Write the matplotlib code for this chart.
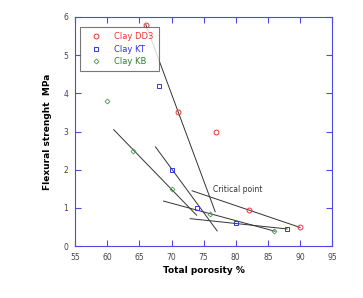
import matplotlib.pyplot as plt

# measured points
dd3_x = [66, 71, 77, 82, 90]
dd3_y = [5.8, 3.5, 3.0, 0.95, 0.5]
kt_x = [68, 70, 74, 80, 88]
kt_y = [4.2, 2.0, 1.0, 0.6, 0.45]
kb_x = [60, 64, 70, 76, 86]
kb_y = [3.8, 2.5, 1.5, 0.85, 0.4]

# trend lines (x0, x1), (y0, y1)
trend_x = [(66, 76.8), (67.5, 77.1), (61.0, 73.9), (68.75, 86.1), (72.9, 88), (73.2, 90)]
trend_y = [(5.8, 0.9), (2.6, 0.4), (3.05, 0.81), (1.18, 0.39), (0.72, 0.45), (1.45, 0.49)]

axcol = '#4a4ae6'

fig = plt.figure(figsize=(3.63, 2.98), dpi=100)
ax = fig.add_axes([0.207, 0.174, 0.708, 0.769])

for xs, ys in zip(trend_x, trend_y):
    ax.plot(xs, ys, color='#333333', lw=0.7, zorder=1)

ax.plot(dd3_x, dd3_y, 'o', ls='none', mfc='none', mec='#ee3333', ms=3.5, mew=0.7, label='Clay DD3', zorder=2)
ax.plot(kt_x, kt_y, 's', ls='none', mfc='none', mec='#3333dd', ms=3.5, mew=0.7, label='Clay KT', zorder=2)
ax.plot(kb_x, kb_y, 'D', ls='none', mfc='none', mec='#4a9a4a', ms=2.5, mew=0.6, label='Clay KB', zorder=2)

ax.text(76.5, 1.48, 'Critical point', fontsize=5.5, color='#333333', va='center')

ax.set_xlim(55, 95)
ax.set_ylim(0, 6)
ax.set_xticks(range(55, 96, 5))
ax.set_yticks(range(0, 7))
for s in ax.spines.values():
    s.set_color(axcol)
    s.set_linewidth(0.8)
ax.tick_params(direction='in', top=True, right=True, length=4, width=0.8,
               color=axcol, labelsize=5.5, labelcolor='#444444', pad=5)
ax.set_xlabel('Total porosity %', fontsize=6.5, fontweight='bold', labelpad=3)
ax.set_ylabel('Flexural strenght  MPa', fontsize=6.5, fontweight='bold', labelpad=8)

leg = ax.legend(loc='upper left', bbox_to_anchor=(0.02, 0.957), borderaxespad=0, fontsize=6, frameon=True,
                fancybox=False, edgecolor='#555555', borderpad=0.6, handletextpad=0.9,
                labelspacing=0.45, handlelength=2.6)
leg.get_frame().set_linewidth(0.8)
for t, c in zip(leg.get_texts(), ['#ee3333', '#3333dd', '#2e7d2e']):
    t.set_color(c)

fig.savefig('out.png', dpi=100)
